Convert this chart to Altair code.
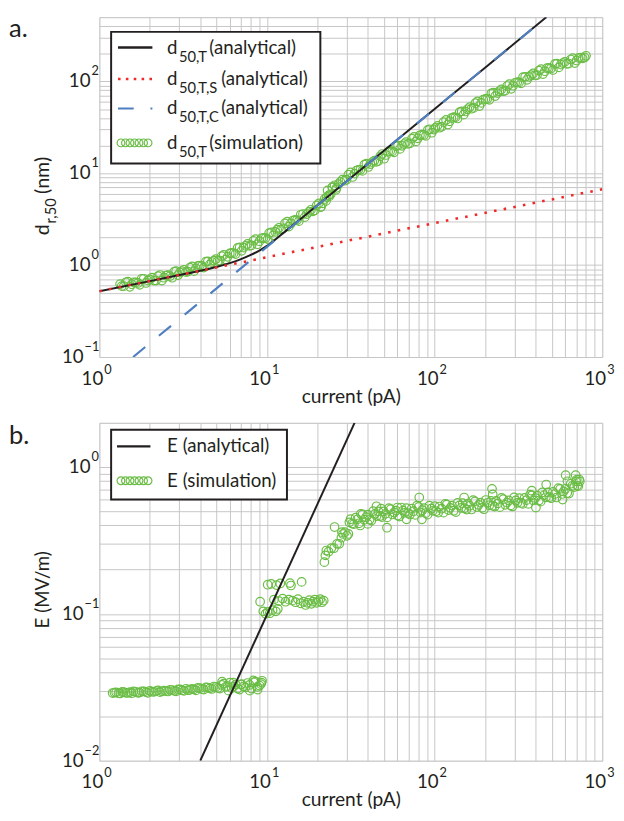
import altair as alt
import pandas as pd

# ---------------- data ----------------
# panel a : analytical curves
cur_T = [1, 2, 3, 4, 5, 6, 7, 8, 9, 10, 12, 15, 20, 30, 50, 100, 200, 464]
d50_T = [0.52, 0.67, 0.78, 0.87, 0.955, 1.05, 1.16, 1.29, 1.44, 1.62, 2.1, 2.93, 4.49, 8.23, 17.7, 50, 141, 500]
cur_S = [1, 10, 100, 1000]
d50_S = [0.52, 1.22, 2.87, 6.7]
cur_C = [1.59, 10, 100, 464]
d50_C = [0.1, 1.58, 50, 500]

# panel a : simulation (two interleaved sweeps)
cur_sim_a1 = [1.33, 1.40, 1.48, 1.56, 1.65, 1.74, 1.84, 1.95, 2.06, 2.18,
              2.30, 2.43, 2.57, 2.72, 2.87, 3.03, 3.20, 3.38, 3.57, 3.77,
              3.98, 4.20, 4.44, 4.69, 4.95, 5.23, 5.52, 5.83, 6.16, 6.50,
              6.87, 7.25, 7.66, 8.09, 8.54, 9.02, 9.53, 10.1, 10.6, 11.2,
              11.8, 12.5, 13.2, 13.9, 14.7, 15.5, 16.4, 17.3, 18.3, 19.3,
              20.4, 21.5, 22.7, 24.0, 25.3, 26.7, 28.2, 29.8, 31.5, 33.3,
              35.1, 37.1, 39.2, 41.4, 43.7, 46.1, 48.7, 51.4, 54.3, 57.3,
              60.5, 63.9, 67.5, 71.3, 75.3, 79.5, 84.0, 88.7, 93.6, 98.9,
              104, 110, 117, 123, 130, 137, 145, 153, 162, 171,
              180, 190, 201, 212, 224, 237, 250, 264, 279, 294,
              311, 328, 347, 366, 387, 408, 431, 455, 481, 508,
              536, 566, 598, 631, 667, 704, 744, 785,
              21.0, 22.5, 23.0, 23.5, 24.5, 25.8]
d50_sim_1 = [0.62, 0.59, 0.66, 0.62, 0.65, 0.61, 0.71, 0.68, 0.73, 0.68,
             0.78, 0.73, 0.78, 0.73, 0.86, 0.83, 0.89, 0.85, 0.97, 0.92,
             0.99, 0.94, 1.10, 1.08, 1.16, 1.12, 1.29, 1.23, 1.36, 1.32,
             1.56, 1.55, 1.70, 1.64, 1.92, 1.82, 1.98, 1.92, 2.27, 2.30,
             2.55, 2.52, 2.97, 2.84, 3.11, 3.01, 3.60, 3.60, 4.00, 3.94,
             4.70, 4.70, 5.50, 5.90, 7.40, 7.60, 8.50, 8.50, 10.2, 9.90,
             10.9, 10.6, 12.7, 12.6, 13.7, 13.6, 16.2, 15.8, 17.4, 16.9,
             20.0, 19.9, 21.8, 21.2, 24.9, 24.0, 26.3, 25.5, 30.1, 29.9,
             32.8, 32.0, 38.0, 36.8, 40.8, 39.5, 47.2, 47.0, 52.5, 51.4,
             60.5, 58.3, 64.3, 63.0, 75.3, 74.5, 81.6, 79.2, 93.1, 89.7,
             97.9, 95.0, 112, 112, 122, 117, 136, 129, 140, 133,
             156, 152, 163, 156, 179, 169, 181, 182,
             4.3, 5.0, 6.5, 5.6, 7.0, 6.6]
cur_sim_a2 = [1.36, 1.44, 1.52, 1.60, 1.70, 1.79, 1.90, 2.00, 2.12, 2.24,
              2.36, 2.50, 2.64, 2.80, 2.95, 3.11, 3.29, 3.47, 3.67, 3.87,
              4.09, 4.32, 4.56, 4.82, 5.09, 5.37, 5.67, 6.00, 6.33, 6.68,
              7.06, 7.45, 7.87, 8.31, 8.78, 9.27, 9.80, 10.3, 10.9, 11.5,
              12.1, 12.8, 13.5, 14.3, 15.1, 15.9, 16.8, 17.8, 18.8, 19.8,
              20.9, 22.1, 23.3, 24.6, 26.0, 27.4, 29.0, 30.6, 32.4, 34.2,
              36.1, 38.1, 40.3, 42.5, 44.9, 47.4, 50.0, 52.8, 55.8, 58.9,
              62.2, 65.7, 69.4, 73.3, 77.4, 81.7, 86.3, 91.1, 96.2, 101,
              107, 113, 120, 126, 133, 141, 149, 157, 166, 175,
              185, 195, 206, 218, 230, 243, 257, 271, 286, 302,
              319, 337, 356, 376, 397, 419, 443, 468, 494, 522,
              551, 582, 614, 649, 685, 724, 764, 800]
d50_sim_2 = [0.59, 0.65, 0.58, 0.65, 0.64, 0.71, 0.64, 0.70, 0.68, 0.76,
             0.68, 0.77, 0.76, 0.85, 0.78, 0.86, 0.84, 0.94, 0.86, 0.98,
             0.98, 1.09, 1.01, 1.12, 1.11, 1.25, 1.15, 1.34, 1.35, 1.54,
             1.43, 1.62, 1.62, 1.84, 1.69, 1.96, 1.97, 2.23, 2.11, 2.43,
             2.44, 2.84, 2.63, 3.06, 3.09, 3.53, 3.33, 3.79, 3.85, 4.46,
             4.28, 5.25, 5.74, 7.06, 6.94, 8.06, 8.29, 9.66, 9.11, 10.7,
             10.9, 12.4, 11.7, 13.2, 13.3, 15.3, 14.4, 17.1, 17.3, 19.7,
             18.4, 20.8, 20.9, 23.8, 22.2, 25.9, 26.1, 29.6, 27.6, 31.1,
             31.3, 36.0, 33.9, 39.8, 40.6, 46.3, 43.4, 49.7, 50.4, 57.8,
             53.9, 63.1, 64.4, 73.8, 69.1, 78.0, 78.1, 89.0, 83.0, 96.6,
             97.5, 111, 104, 117, 116, 131, 120, 139, 138, 155,
             142, 158, 155, 173, 158, 180, 178, 190]

# panel b : analytical
cur_E = [4.0, 33.3]
E_an = [0.01, 2.0]

# panel b : simulation
cur_sim_b1 = [1.20, 1.26, 1.33, 1.40, 1.48, 1.56, 1.65, 1.74, 1.84, 1.95,
              2.06, 2.18, 2.30, 2.43, 2.57, 2.72, 2.87, 3.03, 3.20, 3.38,
              3.57, 3.77, 3.98, 4.20, 4.44, 4.69, 4.95, 5.23, 5.52, 5.83,
              6.16, 6.50, 6.87, 7.25, 7.66, 8.09, 8.54, 9.02, 9.35,
              5.4, 5.9, 6.3, 7.0, 7.9, 8.3, 8.8, 9.2,
              9.1, 9.5, 9.8, 10.1, 10.4, 10.8, 11.3, 11.6, 10.1, 10.6,
              11.4, 12.0, 13.7, 13.9, 16.1, 11.0, 11.8, 12.4, 12.9, 13.5,
              14.2, 14.8, 15.3, 15.9, 16.5, 17.0, 17.4, 17.9, 18.4, 18.8,
              19.3, 19.8, 20.3, 20.8, 21.3, 21.8,
              22.0, 22.3, 22.6, 23.3, 24.2, 25.1, 25.3, 26.2, 27.0, 27.8,
              28.4, 28.0, 29.2, 30.0, 30.6, 31.0,
              31.5, 33.0, 34.6, 36.3, 38.1, 40.0, 42.0, 44.0, 46.2, 48.5,
              50.9, 53.4, 56.0, 58.8, 61.7, 64.7, 67.9, 71.3, 74.8, 78.5,
              82.4, 86.5, 90.8, 95.3, 100, 105, 110, 116, 121, 127,
              134, 140, 147, 155, 162, 170, 179, 188, 197, 207,
              217, 228, 239, 251, 264, 277, 291, 305, 320, 336,
              353, 371, 389, 409, 429, 450, 473, 496, 521, 547,
              575, 603, 633, 665, 698, 720, 735,
              36, 40, 45, 48, 52, 60, 68, 81, 84, 150,
              220, 222, 380, 402, 463, 580, 605, 620, 694, 705]
E_sim_1 = [.0289, .0292, .0287, .0293, .0290, .0288, .0294, .0291, .0296, .0290,
           .0295, .0298, .0293, .0300, .0296, .0303, .0297, .0306, .0299, .0302,
           .0309, .0301, .0312, .0305, .0315, .0308, .0318, .0310, .0335, .0322,
           .0312, .0330, .0305, .0320, .0338, .0310, .0345, .0325, .0350,
           .0345, .0300, .0340, .0330, .0300, .0352, .0305, .0332,
           .121, .104, .100, .103, .101, .106, .104, .108, .158, .160,
           .157, .161, .162, .156, .165, .125, .122, .127, .121, .125,
           .123, .120, .126, .118, .121, .115, .119, .124, .117, .121,
           .125, .119, .122, .126, .120, .123,
           .225, .25, .27, .265, .28, .28, .39, .30, .30, .33,
           .35, .36, .36, .34, .35, .42,
           .441, .409, .44, .48, .437, .474, .432, .479, .499, .456,
           .48, .524, .475, .505, .46, .505, .525, .475, .50, .545,
           .49, .525, .474, .52, .541, .489, .52, .562, .509, .546,
           .493, .546, .567, .513, .545, .594, .534, .572, .516, .571,
           .588, .537, .565, .616, .553, .592, .539, .592, .614, .561,
           .595, .648, .592, .639, .581, .643, .672, .613, .655, .718,
           .655, .711, .66, .745, .798, .741, .80,
           .40, .41, .54, .52, .386, .53, .44, .62, .44, .62,
           .71, .65, .69, .53, .76, .60, .88, .80, .88, .82]
cur_sim_b2 = [1.23, 1.30, 1.37, 1.44, 1.52, 1.60, 1.70, 1.79, 1.90, 2.00,
              2.12, 2.24, 2.36, 2.50, 2.64, 2.80, 2.95, 3.11, 3.29, 3.47,
              3.67, 3.87, 4.09, 4.32, 4.56, 4.82, 5.09, 5.37, 5.67, 6.00,
              6.33, 6.68, 7.06, 7.45, 7.87, 8.31, 8.78, 9.27,
              32.2, 33.8, 35.4, 37.2, 39.0, 41.0, 43.0, 45.1, 47.3, 49.7,
              52.1, 54.7, 57.4, 60.2, 63.2, 66.3, 69.6, 73.0, 76.6, 80.4,
              84.4, 88.6, 93.0, 97.6, 102, 107, 113, 118, 124, 130,
              137, 144, 151, 158, 166, 174, 183, 192, 202, 212,
              222, 233, 245, 257, 270, 284, 298, 312, 328, 344,
              362, 380, 399, 419, 439, 461, 484, 508, 534, 561,
              589, 618, 649, 681, 709, 728]
E_sim_2 = [.0291, .0288, .0294, .0290, .0293, .0296, .0290, .0297, .0293, .0299,
           .0294, .0301, .0297, .0298, .0304, .0299, .0306, .0301, .0309, .0304,
           .0306, .0313, .0307, .0316, .0311, .0320, .0313, .0328, .0318, .0340,
           .0320, .0310, .0332, .0316, .0328, .0342, .0318, .0340,
           .412, .452, .414, .475, .455, .439, .501, .463, .464, .499,
           .454, .516, .490, .467, .530, .487, .485, .520, .472, .535,
           .508, .485, .546, .503, .500, .538, .489, .554, .527, .504,
           .569, .526, .524, .564, .514, .583, .552, .527, .596, .549,
           .545, .588, .533, .604, .572, .548, .621, .570, .569, .616,
           .561, .641, .615, .591, .671, .622, .623, .676, .620, .710,
           .682, .665, .770, .730, .747, .822]

# axis tick values (gridlines) and labels
x_grid = [m * 10 ** k for k in range(3) for m in range(1, 10)] + [1000]
ya_grid = [round(m * 10.0 ** k, 3) for k in (-1, 0, 1) for m in range(1, 10)] + [100, 200, 300, 400, 500]
yb_grid = [round(m * 10.0 ** k, 4) for k in (-2, -1) for m in range(1, 10)] + [1, 2]
x_lab = [1, 10, 100, 1000]
x_exp = ["0", "1", "2", "3"]
ya_lab_neg, ya_exp_neg = [0.1], ["\u22121"]
ya_lab_pos, ya_exp_pos = [1, 10, 100], ["0", "1", "2"]
yb_lab_neg, yb_exp_neg = [0.01, 0.1], ["\u22122", "\u22121"]
yb_lab_pos, yb_exp_pos = [1], ["0"]

# ---------------- styling ----------------
FONT = "Lato"
TXT = "#231f20"
GREEN = "#6abd45"
RED = "#ee2a2a"
BLUE = "#4f7fc0"
BLACK = "#231f20"
GRID = "#c6c6c6"
W = 512
HA = 346
HB = 344
FS = 19        # main text size
FSUB = 15      # subscript size
PT = 76        # marker size

one = pd.DataFrame({"k": [0]})

xscale = alt.Scale(type="log", domain=[1, 1000], nice=False)
xaxis = alt.Axis(values=x_grid, grid=True, gridColor=GRID, gridWidth=1, labels=False,
                 ticks=False, domain=False, title="current (pA)", titleFont=FONT,
                 titleFontSize=19.5, titleFontWeight="normal", titleColor=TXT, titlePadding=31)


def yaxis(vals):
    return alt.Axis(values=vals, grid=True, gridColor=GRID, gridWidth=1, labels=False,
                    ticks=False, domain=False, title="")


def tick_labels(H, yscale, yax, neg_vals, neg_exp, pos_vals, pos_exp):
    dfx = pd.DataFrame({"x": x_lab, "e": x_exp})
    X = alt.X("x:Q", scale=xscale, axis=xaxis)
    lx1 = alt.Chart(dfx).mark_text(align="right", baseline="middle", font=FONT, fontSize=FS,
                                   color=TXT, dx=4).encode(x=X, y=alt.value(H + 22), text=alt.value("10"))
    lx2 = alt.Chart(dfx).mark_text(align="left", baseline="middle", font=FONT, fontSize=13,
                                   color=TXT, dx=5, dy=-9).encode(x=X, y=alt.value(H + 22), text="e:N")
    layers = [lx1, lx2]
    for vals, exps, off in ((neg_vals, neg_exp, -16), (pos_vals, pos_exp, -9)):
        d = pd.DataFrame({"y": vals, "e": exps})
        Y = alt.Y("y:Q", scale=yscale, axis=yax)
        layers.append(alt.Chart(d).mark_text(align="right", baseline="middle", font=FONT, fontSize=FS,
                                             color=TXT).encode(x=alt.value(off), y=Y, text=alt.value("10")))
        layers.append(alt.Chart(d).mark_text(align="left", baseline="middle", font=FONT, fontSize=13,
                                             color=TXT, dy=-10).encode(x=alt.value(off + 1), y=Y, text="e:N"))
    return layers


def txt(s, x, y, size=FS, align="left", baseline="middle", angle=0):
    return alt.Chart(one).mark_text(text=s, align=align, baseline=baseline, font=FONT, fontSize=size,
                                    color=TXT, angle=angle).encode(x=alt.value(x), y=alt.value(y))


def rule(x1, x2, y, color, width, dash=None):
    kw = dict(color=color, strokeWidth=width)
    if dash:
        kw["strokeDash"] = dash
    return alt.Chart(one).mark_rule(**kw).encode(x=alt.value(x1), x2=alt.value(x2), y=alt.value(y))


def legend_circles(y):
    return [alt.Chart(one).mark_point(shape="circle", filled=False, size=62, strokeWidth=1.2,
                                      color=GREEN, opacity=1).encode(x=alt.value(22 + 4.6 * i), y=alt.value(y))
            for i in range(7)]


def sim_points(xs_list, ys_list, Y):
    xs, ys = [], []
    for a, b in zip(xs_list, ys_list):
        xs += a
        ys += b
    return alt.Chart(pd.DataFrame({"x": xs, "y": ys})).mark_point(
        shape="circle", filled=False, size=PT, strokeWidth=1.2, color=GREEN, opacity=1, clip=True
    ).encode(x=alt.X("x:Q", scale=xscale, axis=xaxis), y=Y)


# ---------------- panel a ----------------
ya_scale = alt.Scale(type="log", domain=[0.1, 500], nice=False)
ya_axis = yaxis(ya_grid)
Xa = alt.X("x:Q", scale=xscale, axis=xaxis)
Ya = alt.Y("y:Q", scale=ya_scale, axis=ya_axis)

sim_a = sim_points([cur_sim_a1, cur_sim_a2], [d50_sim_1, d50_sim_2], Ya)
line_T = alt.Chart(pd.DataFrame({"x": cur_T, "y": d50_T})).mark_line(
    color=BLACK, strokeWidth=2, clip=True, interpolate="monotone").encode(x=Xa, y=Ya)
line_S = alt.Chart(pd.DataFrame({"x": cur_S, "y": d50_S})).mark_line(
    color=RED, strokeWidth=2.6, strokeDash=[2.6, 7.4], clip=True).encode(x=Xa, y=Ya)
line_C = alt.Chart(pd.DataFrame({"x": cur_C, "y": d50_C})).mark_line(
    color=BLUE, strokeWidth=2.2, strokeDash=[16, 18], clip=True).encode(x=Xa, y=Ya)

leg_a = [
    alt.Chart(one).mark_rect(fill="white", stroke=BLACK, strokeWidth=2).encode(
        x=alt.value(12), x2=alt.value(225), y=alt.value(15), y2=alt.value(149)),
    rule(19, 54, 31, BLACK, 2.5),
    rule(19, 54, 63, RED, 2.6, [2.6, 5.4]),
    rule(19, 54, 93, BLUE, 2.2, [16, 17, 2, 20]),
] + legend_circles(128)
for yy, sub, rest, rx in ((31, "50,T", "(analytical)", 112), (62, "50,T,S", "(analytical)", 124),
                          (92, "50,T,C", "(analytical)", 124), (127, "50,T", "(simulation)", 112)):
    leg_a += [txt("d", 69, yy + 1), txt(sub, 81, yy + 10, size=FSUB), txt(rest, rx, yy + 1)]

title_a = [txt("a.", -92, 20, size=26, baseline="alphabetic"),
           txt("d", -51, 222, size=20, angle=270, baseline="alphabetic"),
           txt("r,50", -44, 210, size=FSUB, angle=270, baseline="alphabetic"),
           txt("(nm)", -51, 180, size=20, angle=270, baseline="alphabetic")]

panel_a = alt.layer(
    sim_a, line_T, line_S, line_C,
    *tick_labels(HA, ya_scale, ya_axis, ya_lab_neg, ya_exp_neg, ya_lab_pos, ya_exp_pos),
    *leg_a, *title_a
).properties(width=W, height=HA)

# ---------------- panel b ----------------
yb_scale = alt.Scale(type="log", domain=[0.01, 2], nice=False)
yb_axis = yaxis(yb_grid)
Yb = alt.Y("y:Q", scale=yb_scale, axis=yb_axis)

sim_b = sim_points([cur_sim_b1, cur_sim_b2], [E_sim_1, E_sim_2], Yb)
line_E = alt.Chart(pd.DataFrame({"x": cur_E, "y": E_an})).mark_line(
    color=BLACK, strokeWidth=2, clip=True).encode(x=Xa, y=Yb)

leg_b = [
    alt.Chart(one).mark_rect(fill="white", stroke=BLACK, strokeWidth=2).encode(
        x=alt.value(12), x2=alt.value(191), y=alt.value(7), y2=alt.value(78)),
    rule(18, 52, 24, BLACK, 2.5),
] + legend_circles(59) + [txt("E (analytical)", 69, 24), txt("E (simulation)", 69, 59)]

title_b = [txt("b.", -92, 22, size=26, baseline="alphabetic"),
           txt("E (MV/m)", -51, 170, size=FS, align="center", angle=270, baseline="alphabetic")]

panel_b = alt.layer(
    sim_b, line_E,
    *tick_labels(HB, yb_scale, yb_axis, yb_lab_neg, yb_exp_neg, yb_lab_pos, yb_exp_pos),
    *leg_b, *title_b
).properties(width=W, height=HB)

chart = alt.vconcat(panel_a, panel_b, spacing=16).properties(
    padding={"left": 0, "top": 0, "right": 0, "bottom": 0}
).configure_view(stroke=BLACK, strokeWidth=2).configure(background="white")

chart.save("out.html", embed_options={"renderer": "svg", "actions": False})
